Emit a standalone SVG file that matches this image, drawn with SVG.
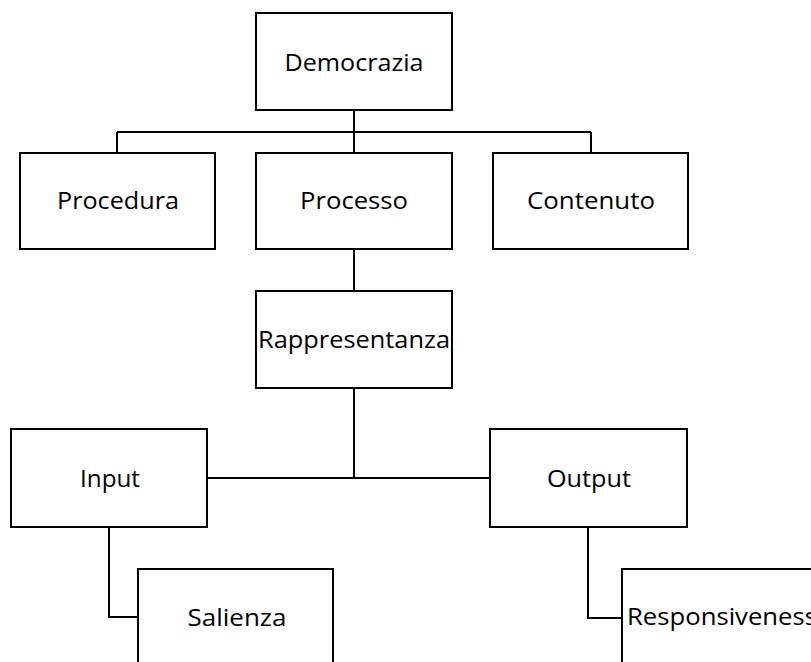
<svg xmlns="http://www.w3.org/2000/svg" width="811" height="662" viewBox="0 0 811 662">
  <style>
    .box { fill: #ffffff; stroke: #000000; stroke-width: 2; }
    .lbl { font-family: "Open Sans", "Liberation Sans", sans-serif; font-size: 24px; fill: #000000; text-anchor: middle; }
    .wire { fill: none; stroke: #000000; stroke-width: 2; }
  </style>
  <rect width="811" height="662" fill="#ffffff"/>

  <!-- connectors -->
  <g id="connectors">
    <path class="wire" d="M354 110 V132 M117 132 H591 M117 132 V153 M354 132 V153 M591 132 V153"/>
    <path class="wire" d="M354 249 V291"/>
    <path class="wire" d="M354 388 V478 M207 478 H490"/>
    <path class="wire" d="M109 527 V617 H138"/>
    <path class="wire" d="M588 527 V618 H622"/>
  </g>

  <g id="democrazia">
    <rect class="box" x="256" y="13" width="196" height="97"/>
    <text class="lbl" x="354" y="71" textLength="139" lengthAdjust="spacingAndGlyphs">Democrazia</text>
  </g>
  <g id="procedura">
    <rect class="box" x="20" y="153" width="195" height="96"/>
    <text class="lbl" x="118" y="209" textLength="122" lengthAdjust="spacingAndGlyphs">Procedura</text>
  </g>
  <g id="processo">
    <rect class="box" x="256" y="153" width="196" height="96"/>
    <text class="lbl" x="354" y="209" textLength="108" lengthAdjust="spacingAndGlyphs">Processo</text>
  </g>
  <g id="contenuto">
    <rect class="box" x="493" y="153" width="195" height="96"/>
    <text class="lbl" x="591" y="209" textLength="128" lengthAdjust="spacingAndGlyphs">Contenuto</text>
  </g>
  <g id="rappresentanza">
    <rect class="box" x="256" y="291" width="196" height="97"/>
    <text class="lbl" x="354" y="348" textLength="192" lengthAdjust="spacingAndGlyphs">Rappresentanza</text>
  </g>
  <g id="input">
    <rect class="box" x="11" y="429" width="196" height="98"/>
    <text class="lbl" x="110" y="487" textLength="60" lengthAdjust="spacingAndGlyphs">Input</text>
  </g>
  <g id="output">
    <rect class="box" x="490" y="429" width="197" height="98"/>
    <text class="lbl" x="589" y="487" textLength="84" lengthAdjust="spacingAndGlyphs">Output</text>
  </g>
  <g id="salienza">
    <rect class="box" x="138" y="569" width="195" height="97"/>
    <text class="lbl" x="237" y="626" textLength="99" lengthAdjust="spacingAndGlyphs">Salienza</text>
  </g>
  <g id="responsiveness">
    <rect class="box" x="622" y="569" width="196" height="97"/>
    <text class="lbl" x="627" y="625" style="text-anchor:start" textLength="190" lengthAdjust="spacingAndGlyphs">Responsiveness</text>
  </g>
</svg>
